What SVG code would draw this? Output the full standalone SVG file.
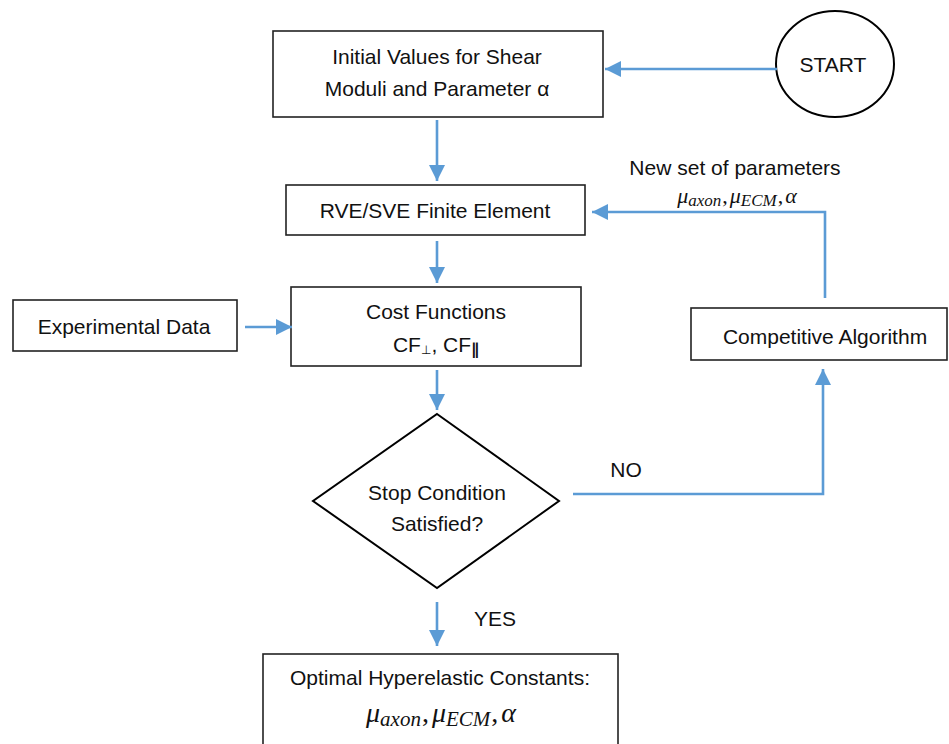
<svg xmlns="http://www.w3.org/2000/svg" width="949" height="744" viewBox="0 0 949 744">
<defs>
<marker id="ah" markerUnits="userSpaceOnUse" markerWidth="18" markerHeight="18" viewBox="0 0 18 18" refX="16" refY="9" orient="auto">
<path d="M0,1 L16,9 L0,17 Z" fill="#5B9BD5"/>
</marker>
<style>
.box{fill:#fff;stroke:#222;stroke-width:1.6}
.t{font-family:"Liberation Sans",Arial,sans-serif;font-size:21px;fill:#111;text-anchor:middle}
.m{font-family:"Liberation Serif","DejaVu Serif",serif;font-style:italic;fill:#111;text-anchor:middle}
.s{font-family:"DejaVu Sans",sans-serif;fill:#111}
.c{fill:none;stroke:#5B9BD5;stroke-width:2.6;marker-end:url(#ah)}
</style>
</defs>
<rect width="949" height="744" fill="#fff"/>
<g id="start">
<ellipse cx="835" cy="64" rx="59" ry="53" fill="#fff" stroke="#000" stroke-width="2"/>
<text class="t" x="833" y="72">START</text>
</g>
<g id="initial">
<rect class="box" x="273" y="31" width="330" height="86"/>
<text class="t" x="437" y="64" font-size="21.5">Initial Values for Shear</text>
<text class="t" x="437" y="96" font-size="21.5">Moduli and Parameter α</text>
</g>
<g id="rve">
<rect class="box" x="286" y="185" width="299" height="50"/>
<text class="t" x="435" y="218">RVE/SVE Finite Element</text>
</g>
<g id="cost">
<rect class="box" x="291" y="287" width="290" height="79"/>
<text class="t" x="436" y="319">Cost Functions</text>
<text class="t" x="436" y="352">CF<tspan class="s" font-size="12" dy="2">⊥</tspan><tspan dy="-2">, CF</tspan><tspan class="s" font-size="16" font-weight="bold" dy="3">∥</tspan></text>
</g>
<g id="experimental">
<rect class="box" x="13" y="300" width="224" height="51"/>
<text class="t" x="124" y="334" font-size="21.5">Experimental Data</text>
</g>
<g id="stop">
<polygon points="437,414 559,501 437,588 313,501" fill="#fff" stroke="#000" stroke-width="2"/>
<text class="t" x="437" y="500">Stop Condition</text>
<text class="t" x="437" y="531">Satisfied?</text>
</g>
<g id="competitive">
<rect class="box" x="691" y="308" width="256" height="52"/>
<text class="t" x="825" y="344" font-size="22">Competitive Algorithm</text>
</g>
<g id="optimal">
<rect class="box" x="263" y="654" width="355" height="110"/>
<text class="t" x="440" y="685" font-size="21.5">Optimal Hyperelastic Constants:</text>
<text class="m" x="441" y="722" font-size="28">μ<tspan font-size="21" dy="4">axon</tspan><tspan dy="-4" font-style="normal" dx="1">,</tspan><tspan dx="3">μ</tspan><tspan font-size="21" dy="4">ECM</tspan><tspan dy="-4" font-style="normal" dx="1">,</tspan><tspan dx="3">α</tspan></text>
</g>
<g id="connectors">
<line class="c" x1="777" y1="69" x2="605" y2="69"/>
<line class="c" x1="437" y1="120" x2="437" y2="181"/>
<line class="c" x1="437" y1="241" x2="437" y2="283"/>
<line class="c" x1="245" y1="327" x2="292" y2="327"/>
<line class="c" x1="437" y1="370" x2="437" y2="410"/>
<polyline class="c" points="573,494 823,494 823,369"/>
<polyline class="c" points="825,298 825,212 592,212"/>
<line class="c" x1="437" y1="602" x2="437" y2="646"/>
<text class="t" x="626" y="477">NO</text>
<text class="t" x="495" y="626">YES</text>
<text class="t" x="735" y="175" font-size="19.5">New set of parameters</text>
<text class="m" x="737" y="203" font-size="22">μ<tspan font-size="17" dy="3">axon</tspan><tspan dy="-3" font-style="normal" dx="1">,</tspan><tspan dx="2">μ</tspan><tspan font-size="17" dy="3">ECM</tspan><tspan dy="-3" font-style="normal" dx="1">,</tspan><tspan dx="2">α</tspan></text>
</g>
</svg>
